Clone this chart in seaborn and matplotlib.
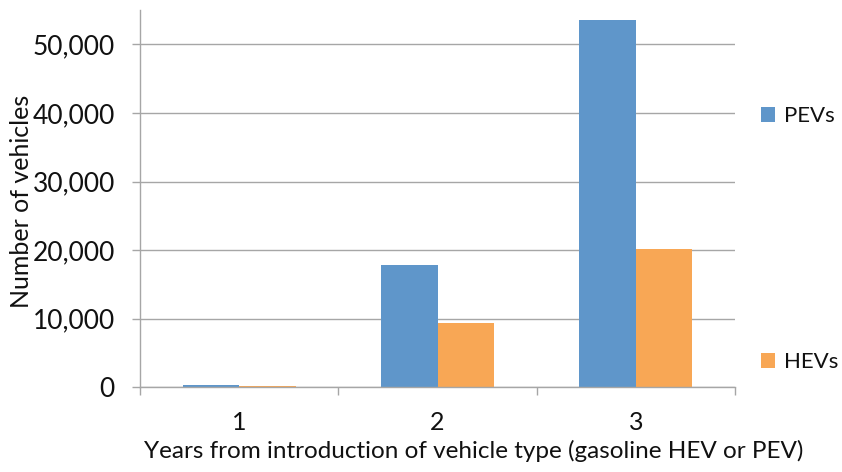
import matplotlib
matplotlib.use("Agg")
import matplotlib.pyplot as plt
import matplotlib.ticker as mticker
from matplotlib.patches import Patch
import pandas as pd
import seaborn as sns

years = ["1", "2", "3"]
pev_counts = [300, 17850, 53500]
hev_counts = [200, 9340, 20230]
series_names = ["PEVs", "HEVs"]
colors = ["#5F96CA", "#F8A755"]
y_ticks = [0, 10000, 20000, 30000, 40000, 50000]

df = pd.DataFrame({
    "year": years * 2,
    "count": pev_counts + hev_counts,
    "type": [series_names[0]] * len(years) + [series_names[1]] * len(years),
})

sns.set_theme(style="white")
plt.rcParams["font.family"] = ["Lato", "DejaVu Sans"]

fig = plt.figure(figsize=(8.42, 4.72), dpi=100)
ax = fig.add_axes([140 / 842, 1 - 387.3 / 472, 595 / 842, 377.3 / 472])

sns.barplot(data=df, x="year", y="count", hue="type", palette=colors,
            width=0.57, gap=0, ax=ax, legend=False, saturation=1,
            edgecolor="none", linewidth=0)

grid_col = "#A6A6A6"
text_col = "#111111"
ax.set_ylim(0, 55000)
ax.set_xlim(-0.5, 2.5)
ax.set_yticks(y_ticks)
ax.yaxis.set_major_formatter(mticker.StrMethodFormatter("{x:,.0f}"))
ax.grid(axis="y", color=grid_col, linewidth=1.0)
ax.set_axisbelow(True)
for s in ["top", "right"]:
    ax.spines[s].set_visible(False)
for s in ["left", "bottom"]:
    ax.spines[s].set_color(grid_col)
    ax.spines[s].set_linewidth(1.0)

ax.tick_params(axis="y", which="major", left=True, length=6, width=1.0,
               color=grid_col, labelsize=19, pad=12, labelcolor=text_col)
ax.set_xticks([0, 1, 2])
ax.set_xticks([-0.5, 0.5, 1.5, 2.5], minor=True)
ax.tick_params(axis="x", which="major", bottom=False, labelsize=18, pad=11,
               labelcolor=text_col)
ax.tick_params(axis="x", which="minor", bottom=True, length=6, width=1.0,
               color=grid_col)

ax.set_xlabel("Years from introduction of vehicle type (gasoline HEV or PEV)",
              fontsize=17.5, color=text_col)
ax.xaxis.set_label_coords(0.56, -0.14)
ax.set_ylabel("Number of vehicles", fontsize=18, color=text_col)
ax.yaxis.set_label_coords(-0.18, 0.494)

leg_ys = [1 - 116 / 472, 1 - 362 / 472]
for name, col, ly in zip(series_names, colors, leg_ys):
    lg = fig.legend(handles=[Patch(facecolor=col, edgecolor="none")], labels=[name],
                    loc="center left", bbox_to_anchor=(761 / 842, ly),
                    frameon=False, fontsize=16, handlelength=0.65, handleheight=0.65,
                    handletextpad=0.4, borderpad=0, borderaxespad=0)
    for t in lg.get_texts():
        t.set_color(text_col)

fig.savefig("out.png", dpi=100)
